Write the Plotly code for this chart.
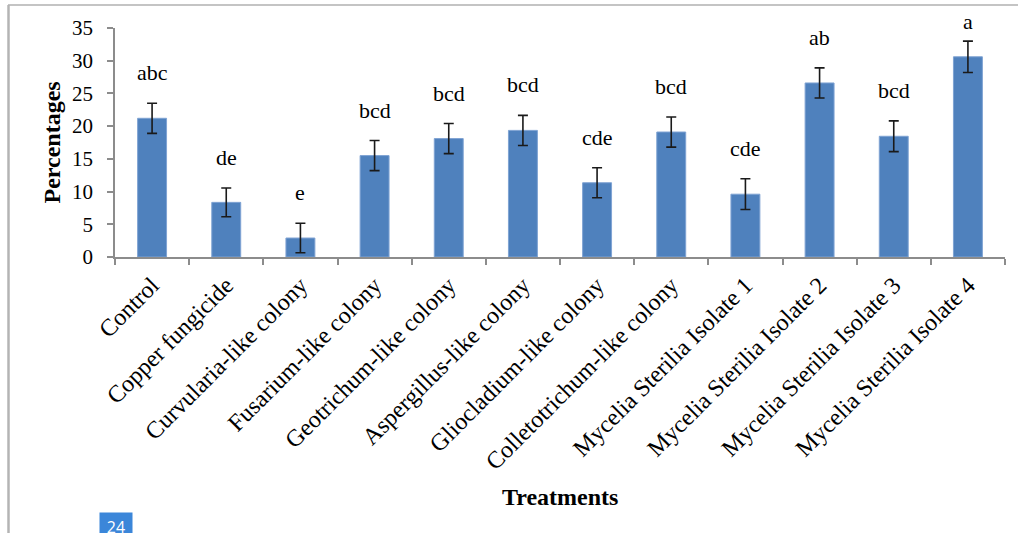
import plotly.graph_objects as go

categories = [
    "Control", "Copper fungicide", "Curvularia-like colony", "Fusarium-like colony",
    "Geotrichum-like colony", "Aspergillus-like colony", "Gliocladium-like colony",
    "Colletotrichum-like colony", "Mycelia Sterilia Isolate 1", "Mycelia Sterilia Isolate 2",
    "Mycelia Sterilia Isolate 3", "Mycelia Sterilia Isolate 4",
]
values = [21.2, 8.35, 2.9, 15.5, 18.1, 19.35, 11.35, 19.1, 9.6, 26.6, 18.45, 30.6]
errors = [2.3, 2.2, 2.25, 2.3, 2.3, 2.3, 2.3, 2.3, 2.35, 2.3, 2.35, 2.4]
letters = ["abc", "de", "e", "bcd", "bcd", "bcd", "cde", "bcd", "cde", "ab", "bcd", "a"]
y_ticks = [0, 5, 10, 15, 20, 25, 30, 35]

W, H = 1018, 533
L, R, T, B = 115, 13, 28, 276
PW, PH = W - L - R, H - T - B

def px(x):
    return (x - L) / PW

def py(y):
    return (H - B - y) / PH

SERIF = "Liberation Serif, Times New Roman, serif"
AXIS_GRAY = "#8c8c8c"

fig = go.Figure()
fig.add_trace(go.Bar(
    x=categories, y=values,
    marker=dict(color="#4F81BD", line=dict(color="#7FA3D3", width=1)),
    error_y=dict(type="data", array=errors, visible=True, color="#1a1a1a",
                 thickness=1.6, width=5),
    width=0.39,
))

annotations = []
for i, (c, v, e, t) in enumerate(zip(categories, values, errors, letters)):
    shift = 5 if v + e > 32 else 16
    annotations.append(dict(
        x=i, y=v + e, xref="x", yref="y", text=t, showarrow=False,
        yanchor="bottom", yshift=shift,
        font=dict(family=SERIF, size=22, color="#000000"),
    ))

annotations.append(dict(
    x=px(51), y=0.5, xref="paper", yref="paper", text="<b>Percentages</b>",
    textangle=-90, showarrow=False, xanchor="center", yanchor="middle",
    font=dict(family=SERIF, size=24, color="#000000"),
))
annotations.append(dict(
    x=px(560), y=py(497), xref="paper", yref="paper", text="<b>Treatments</b>",
    showarrow=False, xanchor="center", yanchor="middle",
    font=dict(family=SERIF, size=24, color="#000000"),
))
annotations.append(dict(
    x=px(116), y=py(512), xref="paper", yref="paper", text="24",
    showarrow=False, xanchor="center", yanchor="top", width=26,
    bgcolor="#3B86D9", borderpad=3,
    font=dict(family="Open Sans, sans-serif", size=16, color="#ffffff"),
))

shapes = [
    dict(type="line", xref="paper", yref="paper", x0=px(8), x1=px(1030),
         y0=py(5), y1=py(5), line=dict(color="#c4c4c4", width=2)),
    dict(type="line", xref="paper", yref="paper", x0=px(8.5), x1=px(8.5),
         y0=py(5), y1=py(540), line=dict(color="#b4b4b4", width=2.5)),
]

fig.update_layout(
    width=W, height=H,
    margin=dict(l=L, r=R, t=T, b=B, autoexpand=False),
    paper_bgcolor="white", plot_bgcolor="white",
    showlegend=False,
    bargap=0.61,
    annotations=annotations,
    shapes=shapes,
    xaxis=dict(
        type="category", showgrid=False, showline=True, linecolor=AXIS_GRAY, linewidth=1.5,
        ticks="outside", tickson="boundaries", ticklen=6, tickcolor=AXIS_GRAY, tickwidth=1.5,
        tickangle=-45, tickfont=dict(family=SERIF, size=24, color="#000000"),
        ticklabelstandoff=3, automargin=False,
    ),
    yaxis=dict(
        range=[0, 35], tickvals=y_ticks, showgrid=False, zeroline=False,
        showline=True, linecolor=AXIS_GRAY, linewidth=1.5,
        ticks="outside", ticklen=6, tickcolor=AXIS_GRAY, tickwidth=1.5,
        tickfont=dict(family=SERIF, size=21, color="#000000"),
        ticklabelstandoff=10, automargin=False,
    ),
)

fig.write_html(
    "out.html",
    config={"displayModeBar": False},
    post_script="document.body.style.margin='0';document.body.style.overflow='hidden';",
)
